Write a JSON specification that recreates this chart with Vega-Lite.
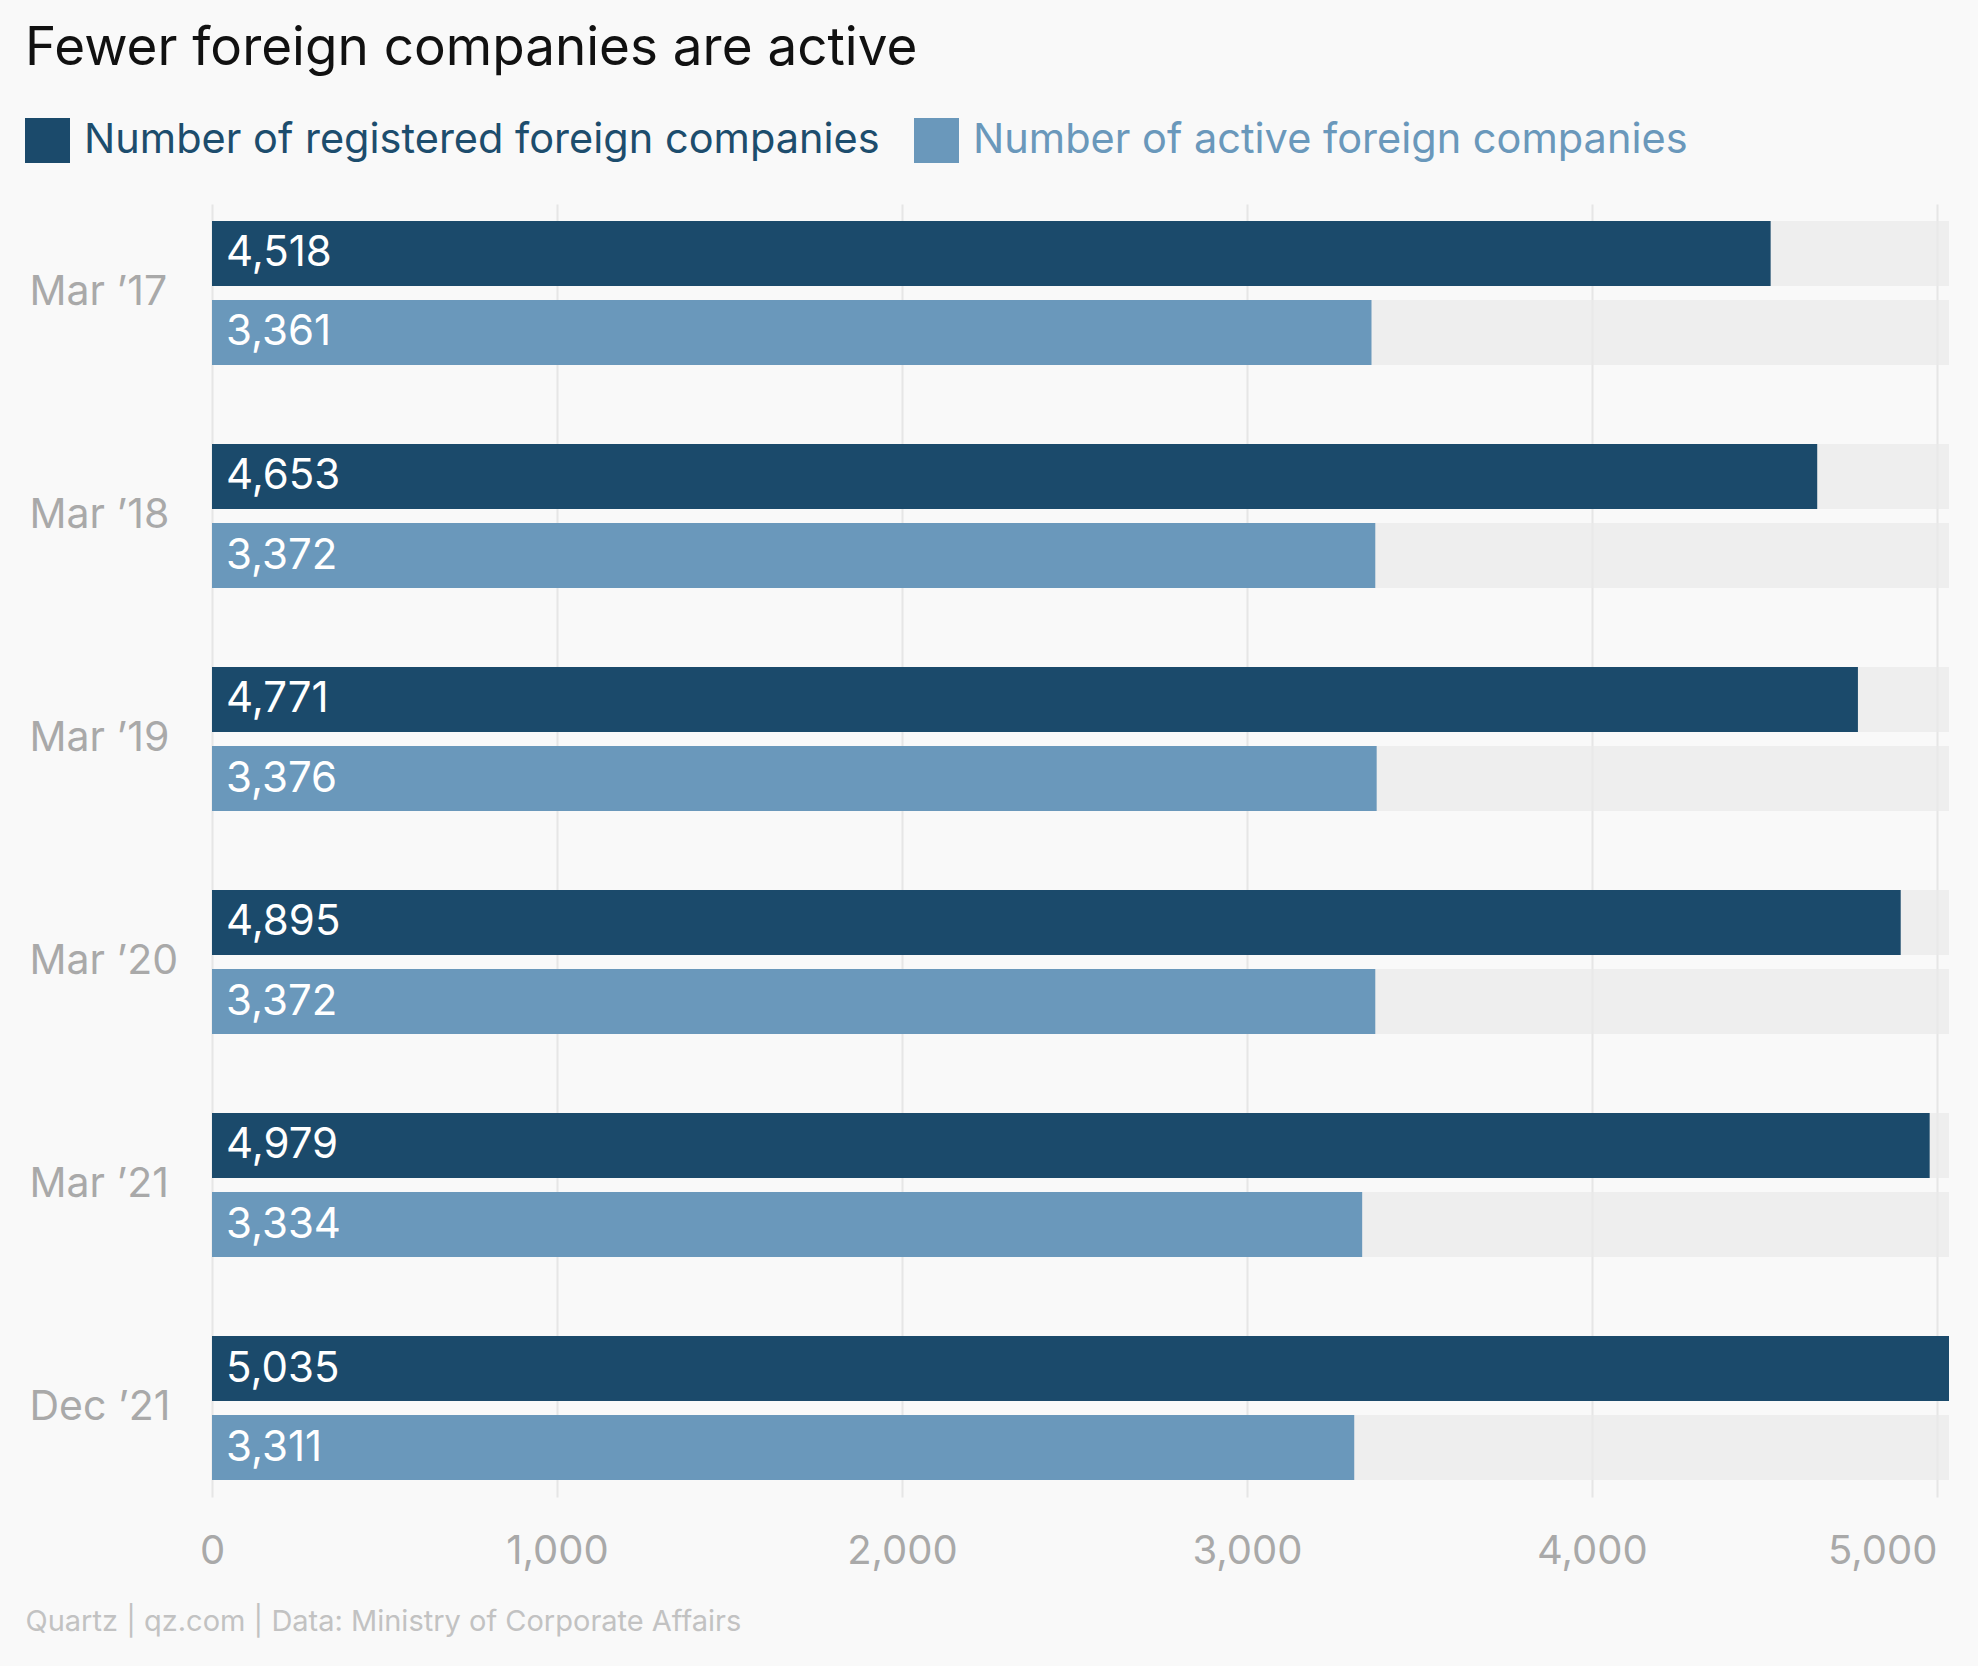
{
  "$schema": "https://vega.github.io/schema/vega-lite/v6.json",
  "autosize": {"type": "none"},
  "padding": {"left": 212, "top": 204, "right": 29, "bottom": 169},
  "width": 1737,
  "height": 1293,
  "background": "#f9f9f9",
  "config": {
    "view": {"stroke": null},
    "font": "Inter"
  },
  "title": {
    "text": "Fewer foreign companies are active",
    "anchor": "start",
    "frame": "group",
    "dx": -187,
    "baseline": "alphabetic",
    "offset": 0,
    "fontSize": 53,
    "fontWeight": "normal",
    "font": "Inter",
    "color": "#111111"
  },
  "data": {
    "values": [
      {"period": "Mar ’17", "series": "Number of registered foreign companies", "value": 4518},
      {"period": "Mar ’17", "series": "Number of active foreign companies", "value": 3361},
      {"period": "Mar ’18", "series": "Number of registered foreign companies", "value": 4653},
      {"period": "Mar ’18", "series": "Number of active foreign companies", "value": 3372},
      {"period": "Mar ’19", "series": "Number of registered foreign companies", "value": 4771},
      {"period": "Mar ’19", "series": "Number of active foreign companies", "value": 3376},
      {"period": "Mar ’20", "series": "Number of registered foreign companies", "value": 4895},
      {"period": "Mar ’20", "series": "Number of active foreign companies", "value": 3372},
      {"period": "Mar ’21", "series": "Number of registered foreign companies", "value": 4979},
      {"period": "Mar ’21", "series": "Number of active foreign companies", "value": 3334},
      {"period": "Dec ’21", "series": "Number of registered foreign companies", "value": 5035},
      {"period": "Dec ’21", "series": "Number of active foreign companies", "value": 3311}
    ]
  },
  "encoding": {
    "y": {
      "field": "period",
      "type": "nominal",
      "sort": null,
      "scale": {"paddingInner": 0.354, "paddingOuter": 0.076},
      "axis": {
        "title": null,
        "domain": false,
        "ticks": false,
        "tickSize": 0,
        "labelAlign": "left",
        "labelPadding": 183,
        "labelFontSize": 41,
        "labelFont": "Inter",
        "labelColor": "#a9a9a9"
      }
    },
    "yOffset": {
      "field": "series",
      "type": "nominal",
      "sort": ["Number of registered foreign companies", "Number of active foreign companies"],
      "scale": {"paddingInner": 0.177, "paddingOuter": 0}
    }
  },
  "layer": [
    {
      "mark": {"type": "bar", "color": "#e9e9e9", "opacity": 0.7},
      "encoding": {
        "x": {
          "datum": 0,
          "type": "quantitative",
          "scale": {"domain": [0, 5035], "nice": false},
          "axis": {
            "values": [0, 1000, 2000, 3000, 4000, 5000],
            "format": ",d",
            "grid": true,
            "gridColor": "#e6e6e6",
            "gridWidth": 2,
            "domain": false,
            "ticks": false,
            "tickSize": 0,
            "labelPadding": 34,
            "labelFontSize": 40,
            "labelFont": "Inter",
            "labelColor": "#a9a9a9",
            "labelAlign": {"condition": {"test": "datum.value == 5000", "value": "right"}, "value": "center"},
            "title": "Quartz | qz.com | Data: Ministry of Corporate Affairs",
            "titleX": -187,
            "titleY": 133,
            "titleAlign": "left",
            "titleAnchor": "start",
            "titleBaseline": "alphabetic",
            "titleFontSize": 29,
            "titleFontWeight": "normal",
            "titleFont": "Inter",
            "titleColor": "#c2c2c2"
          }
        },
        "x2": {"datum": 5035}
      }
    },
    {
      "mark": {"type": "bar"},
      "encoding": {
        "x": {"field": "value", "type": "quantitative", "stack": null},
        "color": {
          "field": "series",
          "type": "nominal",
          "scale": {
            "domain": ["Number of registered foreign companies", "Number of active foreign companies"],
            "range": ["#1b4a6b", "#6a98bb"]
          },
          "legend": {
            "orient": "none",
            "legendX": -187,
            "legendY": -86,
            "direction": "horizontal",
            "title": null,
            "symbolType": "square",
            "symbolSize": 2025,
            "symbolStrokeWidth": 0,
            "symbolOpacity": 1,
            "labelFontSize": 41.5,
            "labelFont": "Inter",
            "labelOffset": 14,
            "labelLimit": 0,
            "columnPadding": 34,
            "padding": 0,
            "encode": {
              "labels": {
                "update": {
                  "fill": {"signal": "datum.value == 'Number of registered foreign companies' ? '#1d4d6d' : '#6a98bb'"}
                }
              }
            }
          }
        }
      }
    },
    {
      "mark": {"type": "text", "align": "left", "baseline": "middle", "dx": 14, "fontSize": 42, "font": "Inter", "color": "#ffffff"},
      "encoding": {
        "x": {"datum": 0, "type": "quantitative"},
        "text": {"field": "value", "type": "quantitative", "format": ","}
      }
    }
  ]
}
